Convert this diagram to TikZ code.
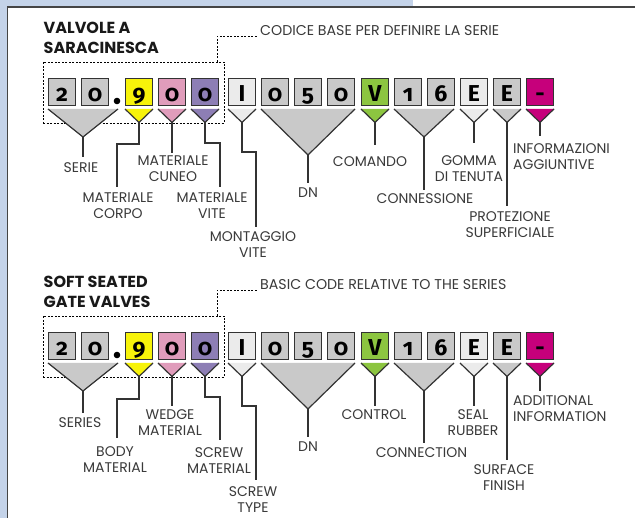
\documentclass[tikz,border=0pt]{standalone}
\usepackage{fontspec}
\setmainfont{Poppins}
\newfontfamily\boxfont{Fira Sans}[Numbers=OldStyle]
\definecolor{cblue}{HTML}{C4D3E9}
\definecolor{cframe}{HTML}{444444}
\definecolor{cgray}{HTML}{C9C9C9}
\definecolor{clight}{HTML}{EBEBEB}
\definecolor{cyel}{HTML}{F7F30A}
\definecolor{cpink}{HTML}{E09CBB}
\definecolor{cpurp}{HTML}{8D7EB5}
\definecolor{cgreen}{HTML}{8CC540}
\definecolor{cmag}{HTML}{C6007B}
\definecolor{cline}{HTML}{333333}
\definecolor{ctext}{HTML}{3A3A3A}
\tikzset{
  cbox/.style={draw=cline,line width=1.3pt,minimum width=27pt,minimum height=27pt,inner sep=0pt,
    font=\boxfont\bfseries\fontsize{23}{23}\selectfont,text height=20pt,text depth=0pt},
  tri/.style={draw=cline,line width=1.2pt},
  conn/.style={draw=cline,line width=1.3pt},
  dboxn/.style={draw=black,line width=0.9pt,dash pattern=on 2pt off 1.5pt,minimum width=181pt,minimum height=61pt,inner sep=0pt},
  dline/.style={draw=black,line width=0.9pt,dash pattern=on 2pt off 1.5pt},
  lead/.style={anchor=base west,inner sep=0pt,text=ctext,font=\fontsize{14.2}{16}\selectfont},
  lbl/.style={anchor=north,inner sep=0pt,text=ctext,align=center,font=\fontsize{14}{16}\selectfont},
  ttl/.style={anchor=north west,inner sep=0pt,align=left,text=black!90,font=\fontsize{16}{20.5}\selectfont\bfseries}
}
\newcommand\coderow[2]{%
  \node[dboxn] (#1db) at (133.5,92.5) {};
  \node[lead] (#1lead) at (260,36) {#2};
  \draw[dline] ([xshift=-7pt]#1db.north east) |- ([xshift=-2pt]#1lead.base west);
  \foreach \xx/\cc/\tx/\nn in {48/cgray/2/b1,81/cgray/0/b2,125/cyel/9/b3,158/cpink/0/b4,191/cpurp/0/b5,228/clight/I/b6,261/cgray/0/b7,294/cgray/5/b8,327/cgray/0/b9,361/cgreen/V/b10,394/cgray/1/b11,427/cgray/6/b12,460/clight/E/b13,493/cgray/E/b14,526/cmag/-/b15}
    \node[cbox,fill=\cc] (#1\nn) at (\xx+14,92) {\tx};
  \fill[black] (117,101) circle[radius=3.3pt];
  \foreach \xx/\cc/\nn in {125/cyel/Y,158/cpink/P,191/cpurp/U,228/clight/I,361/cgreen/G,460/clight/L,493/cgray/E,526/cmag/M}{
    \fill[\cc] (\xx,109) -- ++(28,0) -- ++(-14,13.5) -- cycle;
    \draw[tri] (\xx,109) -- ++(14,13.5) -- ++(14,-13.5);
    \coordinate (#1\nn) at (\xx+14,122.5);}
  \fill[cgray] (48,109) -- (118,109) -- (83,137) -- cycle;
  \draw[tri] (48,109) -- (83,137) -- (118,109);
  \coordinate (#1S) at (83,137);
  \fill[cgray] (261,109) -- (355,109) -- (308,155) -- cycle;
  \draw[tri] (261,109) -- (308,155) -- (355,109);
  \coordinate (#1D) at (308,155);
  \fill[cgray] (394,109) -- (454,109) -- (424,137) -- cycle;
  \draw[tri] (394,109) -- (424,137) -- (454,109);
  \coordinate (#1C) at (424,137);
}
\begin{document}
\begin{tikzpicture}[x=1pt,y=-1pt]
\useasboundingbox (0,0) rectangle (635,518);
\fill[white] (0,0) rectangle (635,518);
\fill[cblue] (0,0) rectangle (413,7);
\fill[cblue] (0,0) rectangle (7.5,518);
\draw[cframe,line width=1.6pt] (7.5,518) -- (7.5,7) -- (635,7);

% ---------- top ----------
\node[ttl] (ttitle) at (43.5,21.5) {VALVOLE A\\SARACINESCA};
\coderow{t}{CODICE BASE PER DEFINIRE LA SERIE}
\node[lbl] (tserie) at (81,162) {SERIE};
\draw[conn,shorten >=5pt] (tS) -- (tS |- tserie.north);
\node[lbl] (tcorpo) at (118,193) {MATERIALE\\CORPO};
\draw[conn,shorten >=6pt] (tY) -- ++(0,21.5) -| ([xshift=-1pt]tcorpo.north);
\node[lbl] (tcuneo) at (173,156) {MATERIALE\\CUNEO};
\draw[conn,shorten >=3pt] (tP) -- (tP |- tcuneo.north);
\node[lbl] (tvite) at (212,193) {MATERIALE\\VITE};
\draw[conn,shorten >=6pt] (tU) -- ++(0,20.5) -| ([xshift=8pt]tvite.north);
\node[lbl] (tmont) at (253,231) {MONTAGGIO\\VITE};
\draw[conn,shorten >=4pt] (tI) -- ++(0,29.5) -| ([xshift=3pt]tmont.north);
\node[lbl] (tdn) at (308,188) {DN};
\draw[conn,shorten >=5pt] (tD) -- (tD |- tdn.north);
\node[lbl] (tcom) at (370,156) {COMANDO};
\draw[conn,shorten >=11pt] (tG) -- (tG |- tcom.north);
\node[lbl] (tconn) at (425,193) {CONNESSIONE};
\draw[conn,shorten >=3pt] (tC) -- (tC |- tconn.north);
\node[lbl] (tgom) at (469,155) {GOMMA\\DI TENUTA};
\draw[conn,shorten >=12pt] (tL) -- (tL |- tgom.north);
\node[lbl] (tprot) at (510,211) {PROTEZIONE\\SUPERFICIALE};
\draw[conn,shorten >=5pt] (tE) -- (tE |- tprot.north);
\node[lbl,anchor=north west,align=left] (tinfo) at (513,143) {INFORMAZIONI\\AGGIUNTIVE};
\draw[conn,shorten >=7pt] (tM) -- (tM |- tinfo.north);

% ---------- bottom ----------
\node[ttl] (btitle) at (43.5,275.5) {SOFT SEATED\\GATE VALVES};
\begin{scope}[yshift=-254pt]
\coderow{b}{BASIC CODE RELATIVE TO THE SERIES}
\end{scope}
\node[lbl] (bserie) at (80,417) {SERIES};
\draw[conn,shorten >=4pt] (bS) -- (bS |- bserie.north);
\node[lbl] (bbody) at (115,446) {BODY\\MATERIAL};
\draw[conn,shorten >=8pt] (bY) -- ++(0,22.5) -| ([xshift=2pt]bbody.north);
\node[lbl] (bwedge) at (170,409) {WEDGE\\MATERIAL};
\draw[conn,shorten >=2.5pt] (bP) -- (bP |- bwedge.north);
\node[lbl] (bscrm) at (219,447) {SCREW\\MATERIAL};
\draw[conn,shorten >=7pt] (bU) -- ++(0,20.5) -| ([xshift=1pt]bscrm.north);
\node[lbl] (bscrt) at (253,486) {SCREW\\TYPE};
\draw[conn,shorten >=6pt] (bI) -- ++(0,29.5) -| ([xshift=3pt]bscrt.north);
\node[lbl] (bdn) at (308,442) {DN};
\draw[conn,shorten >=5pt] (bD) -- (bD |- bdn.north);
\node[lbl] (bctl) at (374,409) {CONTROL};
\draw[conn,shorten >=3pt] (bG) -- (bG |- bctl.north);
\node[lbl] (bconn) at (421.5,447) {CONNECTION};
\draw[conn,shorten >=4pt] (bC) -- (bC |- bconn.north);
\node[lbl] (bseal) at (473,409) {SEAL\\RUBBER};
\draw[conn,shorten >=3pt] (bL) -- (bL |- bseal.north);
\node[lbl] (bsurf) at (504,464) {SURFACE\\FINISH};
\draw[conn,shorten >=4pt] (bE) -- (bE |- bsurf.north);
\node[lbl,anchor=north west,align=left] (badd) at (513,395) {ADDITIONAL\\INFORMATION};
\draw[conn,shorten >=4pt] (bM) -- (bM |- badd.north);
\end{tikzpicture}
\end{document}
